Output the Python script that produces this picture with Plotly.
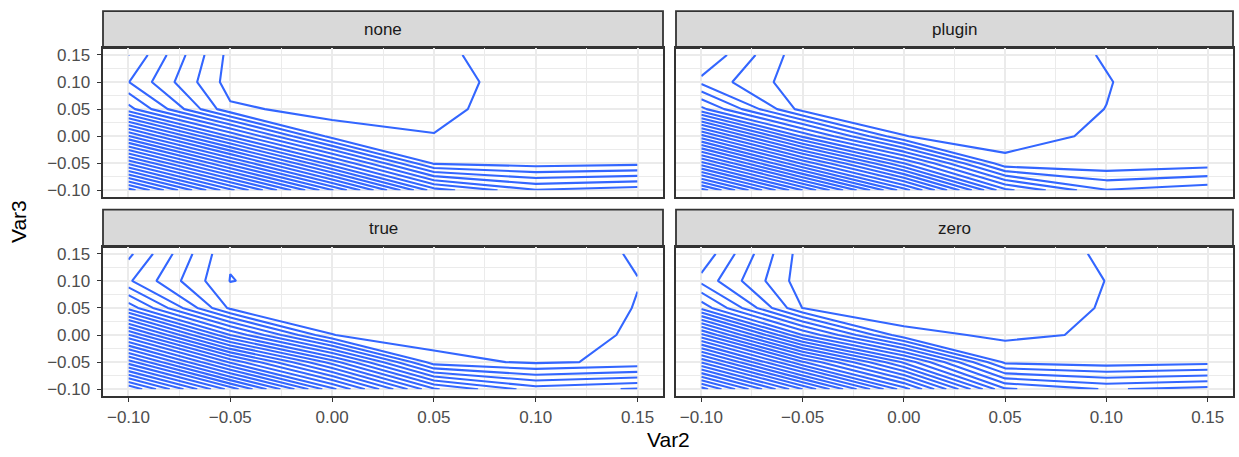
import plotly.graph_objects as go

# ---- data ----
var2 = [-0.10, -0.05, 0.00, 0.05, 0.10, 0.15]
var3 = [-0.10, -0.05, 0.00, 0.05, 0.10, 0.15]
x_ticks = [-0.10, -0.05, 0.00, 0.05, 0.10, 0.15]
y_ticks = [-0.10, -0.05, 0.00, 0.05, 0.10, 0.15]
facets = ["none", "plugin", "true", "zero"]

# rows = Var3 (from -0.10 up to 0.15), columns = Var2 (from -0.10 to 0.15)
z_none = [
    [30.5, 23.3, 16.1, 8.5, 6.1, 6.62],
    [22.8, 15.6, 8.4, 1.85, 1.51, 1.72],
    [15.1, 7.9, 1.55, 1.02, 1.4, 1.5],
    [7.4, 1.19, 0.63, 0.85, 1.3, 1.6],
    [5.03, 0.54, 0.4, 0.7, 1.37, 1.7],
    [6.02, 0.64, 0.5, 0.75, 1.64, 1.8],
]
z_plugin = [
    [30.5, 23.0, 15.5, 7.3, 4.06, 4.65],
    [22.4, 14.8, 8.0, 1.25, 1.2, 1.52],
    [14.4, 6.8, 1.02, 0.6, 1.185, 1.3],
    [6.3, 0.55, 0.6, 0.6, 1.01, 1.4],
    [2.75, 0.3, 0.3, 0.5, 0.95, 1.69],
    [3.9, 0.35, 0.4, 0.34, 1.077, 1.6],
]
z_true = [
    [30.0, 22.6, 15.3, 8.15, 5.5, 6.1],
    [22.5, 14.8, 8.5, 1.43, 0.82, 1.24],
    [15.1, 7.0, 1.02, 0.43, 0.6, 1.105],
    [7.65, 0.78, 0.5, 0.5, 0.5, 1.03],
    [4.15, -0.03, 0.5, 0.5, 0.5, 0.98],
    [5.24, 0.09, 0.3, 0.4, 0.4, 1.10],
]
z_zero = [
    [30.5, 23.0, 15.5, 7.15, 5.9, 6.37],
    [22.9, 15.1, 8.8, 1.75, 1.41, 1.67],
    [15.3, 7.0, 1.33, 0.8, 1.14, 1.4],
    [7.7, 0.97, 0.3, 0.7, 1.04, 1.35],
    [4.7, 0.43, 0.4, 0.5, 1.01, 1.3],
    [5.745, 0.485, 0.5, 0.6, 1.09, 1.3],
]
z_by_facet = [z_none, z_plugin, z_true, z_zero]

# ---- layout geometry (pixels) ----
W, H = 1239, 457
col_px = [(103, 663), (676, 1233)]
row_px = [(46.7, 197.3), (247.7, 398.3)]
strip_px = [(9.3, 46.7), (210.0, 247.7)]
rng = [-0.1125, 0.1625]
minor_vals = [-0.075, -0.025, 0.025, 0.075, 0.125]

FONT = "Liberation Sans, Arial, sans-serif"
LINE_COL = "#3366FF"
TICK_SIZE = 17
STRIP_SIZE = 17
TITLE_SIZE = 21

fig = go.Figure()
shapes = []
annotations = []
layout = {}

for k, (name, z) in enumerate(zip(facets, z_by_facet)):
    r, c = divmod(k, 2)
    n = "" if k == 0 else str(k + 1)
    xa, ya = "x" + n, "y" + n
    fig.add_trace(go.Contour(
        x=var2, y=var3, z=z,
        contours=dict(start=0, end=60, size=1, coloring="none", showlabels=False),
        line=dict(color=LINE_COL, width=2.1, smoothing=0),
        showscale=False, hoverinfo="skip",
        xaxis=xa, yaxis=ya,
    ))
    x0, x1 = col_px[c]
    y0, y1 = row_px[r]
    common = dict(
        range=rng, zeroline=False,
        showgrid=True, gridcolor="#EBEBEB", gridwidth=2,
        minor=dict(tickvals=minor_vals, showgrid=True, gridcolor="#EBEBEB", gridwidth=1, ticks=""),
        showline=True, mirror=True, linecolor="#333333", linewidth=1.8,
        tickfont=dict(family=FONT, size=TICK_SIZE, color="#4D4D4D"),
        tickcolor="#333333", tickwidth=1.4, ticklen=4.5,
        tickformat=".2f",
    )
    layout["xaxis" + n] = dict(
        common, domain=[x0 / W, x1 / W], anchor=ya,
        tickmode="array", tickvals=x_ticks, ticklabelstandoff=0,
        showticklabels=(r == 1), ticks="outside" if r == 1 else "",
    )
    layout["yaxis" + n] = dict(
        common, domain=[1 - y1 / H, 1 - y0 / H], anchor=xa,
        tickmode="array", tickvals=y_ticks, ticklabelstandoff=3,
        showticklabels=(c == 0), ticks="outside" if c == 0 else "",
    )
    s0, s1 = strip_px[r]
    shapes.append(dict(
        type="rect", xref="paper", yref="paper",
        x0=x0 / W, x1=x1 / W, y0=1 - s1 / H, y1=1 - s0 / H,
        fillcolor="#D9D9D9", line=dict(color="#333333", width=1.8), layer="below",
    ))
    annotations.append(dict(
        text=name, xref="paper", yref="paper",
        x=(x0 + x1) / 2 / W, y=1 - (s0 + s1) / 2 / H,
        xanchor="center", yanchor="middle", showarrow=False,
        font=dict(family=FONT, size=STRIP_SIZE, color="#1A1A1A"),
    ))

annotations.append(dict(
    text="Var2", xref="paper", yref="paper",
    x=(col_px[0][0] + col_px[1][1]) / 2 / W, y=1 - 442 / H,
    xanchor="center", yanchor="middle", showarrow=False,
    font=dict(family=FONT, size=TITLE_SIZE, color="#000000"),
))
annotations.append(dict(
    text="Var3", xref="paper", yref="paper",
    x=18 / W, y=1 - (row_px[0][0] + row_px[1][1]) / 2 / H,
    xanchor="center", yanchor="middle", showarrow=False, textangle=-90,
    font=dict(family=FONT, size=TITLE_SIZE, color="#000000"),
))

fig.update_layout(
    width=W, height=H, margin=dict(l=0, r=0, t=0, b=0),
    paper_bgcolor="white", plot_bgcolor="white",
    showlegend=False, shapes=shapes, annotations=annotations,
    font=dict(family=FONT),
    **layout,
)

fig.write_html("out.html")
